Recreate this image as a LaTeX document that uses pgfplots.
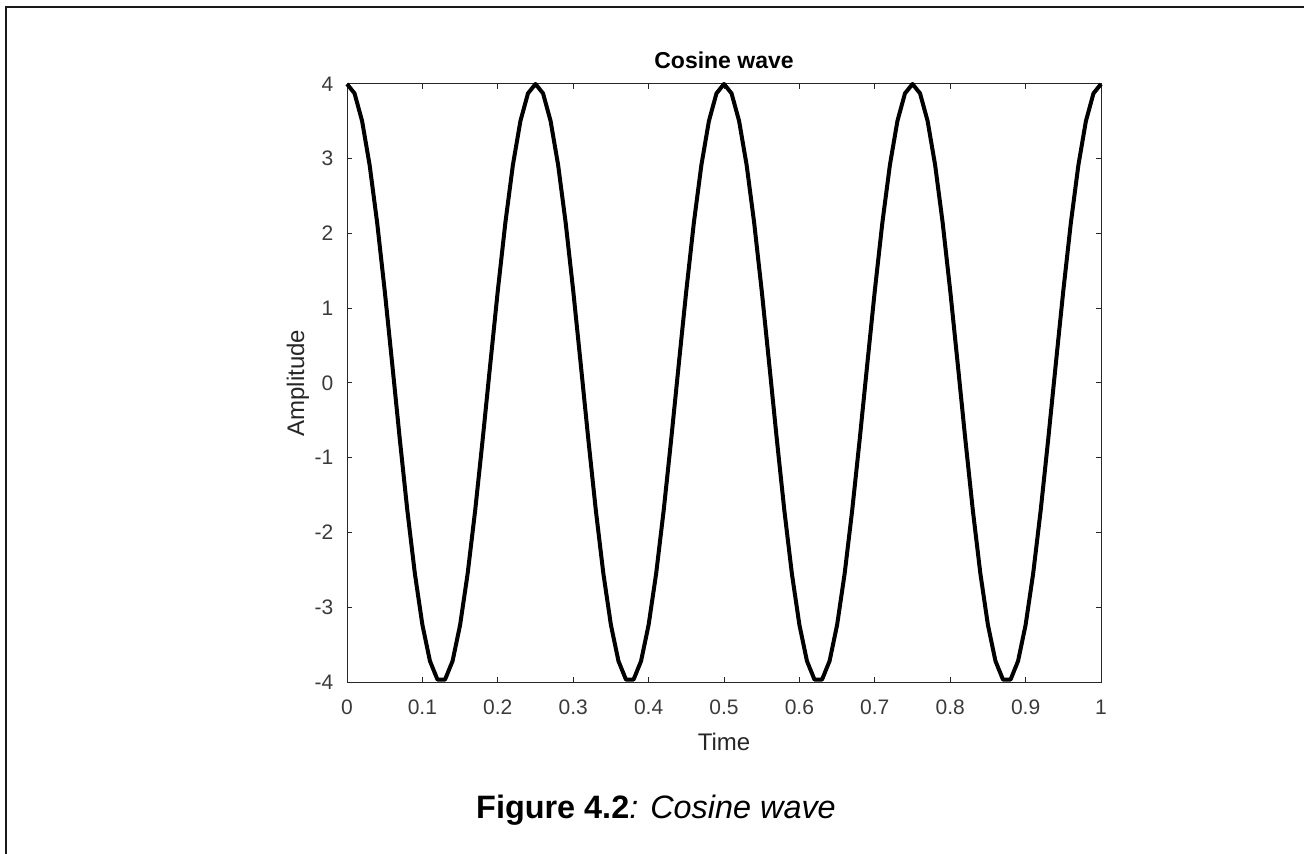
\documentclass[border=0pt]{standalone}
\usepackage{fontspec}
\setmainfont{Liberation Sans}
\usepackage{pgfplots}
\pgfplotsset{compat=1.18}
\definecolor{axgray}{HTML}{262626}
\definecolor{lblgray}{HTML}{3a3a3a}

\begin{document}
\begin{tikzpicture}
\useasboundingbox (0,0) rectangle (652pt,-427pt);
% page frame (left and top edges only)
\draw[line width=1pt,black!90] (3pt,-427pt) -- (3pt,-3.5pt) -- (652pt,-3.5pt);

\begin{axis}[
  at={(173.5pt,-341pt)}, anchor=south west,
  scale only axis, width=377pt, height=299pt,
  xmin=0, xmax=1, ymin=-4, ymax=4,
  xtick={0,0.1,0.2,0.3,0.4,0.5,0.6,0.7,0.8,0.9,1},
  xticklabels={0,0.1,0.2,0.3,0.4,0.5,0.6,0.7,0.8,0.9,1},
  ytick={-4,-3,-2,-1,0,1,2,3,4},
  yticklabels={-4,-3,-2,-1,0,1,2,3,4},
  tick align=inside, major tick length=2.5pt,
  every tick/.style={axgray, line width=0.5pt},
  axis line style={axgray, line width=0.5pt},
  tick label style={font=\fontsize{10.5}{12}\selectfont, text=lblgray},
  xticklabel style={yshift=-5.5pt},
  yticklabel style={xshift=-3.3pt},
  xlabel={Time}, ylabel={Amplitude},
  label style={font=\fontsize{12}{14}\selectfont, text=axgray},
  xlabel style={at={(axis description cs:0.5,0)}, anchor=center, yshift=-30pt},
  ylabel style={at={(axis description cs:0,0.5)}, anchor=center, yshift=24.5pt},
  title={Cosine wave},
  title style={font=\bfseries\fontsize{11.5}{13}\selectfont, at={(axis description cs:0.5,1)}, anchor=center, yshift=6pt},
  clip=false,
]
\addplot[black, line width=2pt, line join=round, mark=none] coordinates {
(0.00,4)(0.01,3.8743)(0.02,3.5052)(0.03,2.9159)(0.04,2.1433)(0.05,1.2361)(0.06,0.2512)(0.07,-0.7495)(0.08,-1.7031)(0.09,-2.5497)(0.10,-3.2361)(0.11,-3.7191)(0.12,-3.9684)(0.13,-3.9684)(0.14,-3.7191)(0.15,-3.2361)(0.16,-2.5497)(0.17,-1.7031)(0.18,-0.7495)(0.19,0.2512)(0.20,1.2361)(0.21,2.1433)(0.22,2.9159)(0.23,3.5052)(0.24,3.8743)
(0.25,4)(0.26,3.8743)(0.27,3.5052)(0.28,2.9159)(0.29,2.1433)(0.30,1.2361)(0.31,0.2512)(0.32,-0.7495)(0.33,-1.7031)(0.34,-2.5497)(0.35,-3.2361)(0.36,-3.7191)(0.37,-3.9684)(0.38,-3.9684)(0.39,-3.7191)(0.40,-3.2361)(0.41,-2.5497)(0.42,-1.7031)(0.43,-0.7495)(0.44,0.2512)(0.45,1.2361)(0.46,2.1433)(0.47,2.9159)(0.48,3.5052)(0.49,3.8743)
(0.50,4)(0.51,3.8743)(0.52,3.5052)(0.53,2.9159)(0.54,2.1433)(0.55,1.2361)(0.56,0.2512)(0.57,-0.7495)(0.58,-1.7031)(0.59,-2.5497)(0.60,-3.2361)(0.61,-3.7191)(0.62,-3.9684)(0.63,-3.9684)(0.64,-3.7191)(0.65,-3.2361)(0.66,-2.5497)(0.67,-1.7031)(0.68,-0.7495)(0.69,0.2512)(0.70,1.2361)(0.71,2.1433)(0.72,2.9159)(0.73,3.5052)(0.74,3.8743)
(0.75,4)(0.76,3.8743)(0.77,3.5052)(0.78,2.9159)(0.79,2.1433)(0.80,1.2361)(0.81,0.2512)(0.82,-0.7495)(0.83,-1.7031)(0.84,-2.5497)(0.85,-3.2361)(0.86,-3.7191)(0.87,-3.9684)(0.88,-3.9684)(0.89,-3.7191)(0.90,-3.2361)(0.91,-2.5497)(0.92,-1.7031)(0.93,-0.7495)(0.94,0.2512)(0.95,1.2361)(0.96,2.1433)(0.97,2.9159)(0.98,3.5052)(0.99,3.8743)
(1.00,4)
};
\end{axis}

% caption
\node[anchor=base, font=\fontsize{16.2}{19}\selectfont] at (328pt,-409pt)
  {\textbf{Figure 4.2}\textit{: Cosine wave}};
\end{tikzpicture}
\end{document}
